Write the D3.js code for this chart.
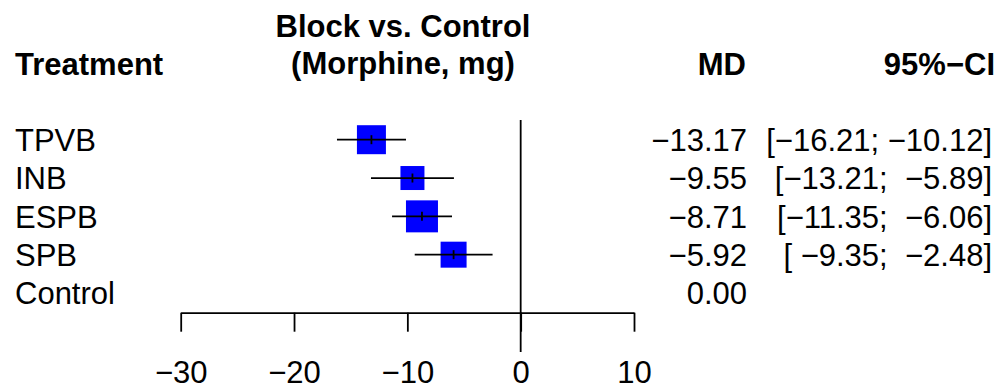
<!DOCTYPE html>
<meta charset="utf-8">
<style>
  body { margin: 0; background: #fff; }
  svg { font-family: "Liberation Sans", Arial, sans-serif; }
  .hdr { font-weight: bold; font-size: 31px; }
  .lbl { font-size: 31px; }
</style>
<body>
<svg width="1003" height="390"></svg>
<script src="https://d3js.org/d3.v7.min.js"></script>
<script>
// forest plot data
var treatments = ["TPVB", "INB", "ESPB", "SPB", "Control"];
var md = [-13.17, -9.55, -8.71, -5.92, 0];
var lower = [-16.21, -13.21, -11.35, -9.35, null];
var upper = [-10.12, -5.89, -6.06, -2.48, null];
var weights = [27.0, 18.5, 32.9, 21.7, null];
var tickVals = [-30, -20, -10, 0, 10];

var svg = d3.select("svg");

var x = d3.scaleLinear().domain([-30, 10]).range([180.7, 634]);
var y = d3.scalePoint().domain(treatments).range([139.7, 293]);
var box = d3.scaleSqrt().domain([0, d3.max(weights)]).range([0, 32]);
var f = d3.format(".2f");

// headers
svg.append("text").attr("class", "hdr").attr("x", 15).attr("y", 75).text("Treatment");
svg.append("text").attr("class", "hdr").attr("x", 403).attr("y", 37)
    .attr("text-anchor", "middle").text("Block vs. Control");
svg.append("text").attr("class", "hdr").attr("x", 403).attr("y", 74)
    .attr("text-anchor", "middle").text("(Morphine, mg)");
svg.append("text").attr("class", "hdr").attr("x", 746).attr("y", 75)
    .attr("text-anchor", "end").text("MD");
svg.append("text").attr("class", "hdr").attr("x", 995).attr("y", 75)
    .attr("text-anchor", "end").text("95%\u2212CI");

var rows = treatments.map(function(t, i) {
  return {name: t, md: md[i], lo: lower[i], hi: upper[i], w: weights[i]};
});

// zero line
svg.append("line")
    .attr("x1", x(0)).attr("x2", x(0))
    .attr("y1", 120).attr("y2", 352)
    .attr("stroke", "#000").attr("stroke-width", 1.8);

// study labels
svg.selectAll(".name").data(rows).enter().append("text")
    .attr("class", "lbl").attr("x", 15)
    .attr("y", function(d) { return y(d.name) + 11.3; })
    .text(function(d) { return d.name; });

var est = rows.filter(function(d) { return d.lo != null; });

// boxes
svg.selectAll(".box").data(est).enter().append("rect")
    .attr("x", function(d) { return x(d.md) - box(d.w) / 2; })
    .attr("y", function(d) { return y(d.name) - box(d.w) / 2; })
    .attr("width", function(d) { return box(d.w); })
    .attr("height", function(d) { return box(d.w); })
    .attr("fill", "#0000ff");

// CI lines
svg.selectAll(".ci").data(est).enter().append("line")
    .attr("x1", function(d) { return x(d.lo); })
    .attr("x2", function(d) { return x(d.hi); })
    .attr("y1", function(d) { return y(d.name); })
    .attr("y2", function(d) { return y(d.name); })
    .attr("stroke", "#000").attr("stroke-width", 1.8);

svg.selectAll(".mk").data(est).enter().append("line")
    .attr("x1", function(d) { return x(d.md); })
    .attr("x2", function(d) { return x(d.md); })
    .attr("y1", function(d) { return y(d.name) - 4.5; })
    .attr("y2", function(d) { return y(d.name) + 4.5; })
    .attr("stroke", "#000").attr("stroke-width", 1.8);

// MD column
svg.selectAll(".md").data(rows).enter().append("text")
    .attr("class", "lbl").attr("x", 747).attr("text-anchor", "end")
    .attr("y", function(d) { return y(d.name) + 11.3; })
    .text(function(d) { return f(d.md); });

// CI column
svg.selectAll(".cit").data(est).enter().append("text")
    .attr("class", "lbl").attr("x", 992).attr("text-anchor", "end")
    .attr("xml:space", "preserve").style("white-space", "pre")
    .attr("y", function(d) { return y(d.name) + 11.3; })
    .text(function(d) {
      return "[" + f(d.lo).padStart(6, " ") + "; " + f(d.hi).padStart(6, " ") + "]";
    });

// axis
var ax = svg.append("g").attr("transform", "translate(0,312.7)")
    .call(d3.axisBottom(x).tickValues(tickVals).tickSize(19).tickPadding(29)
      .tickSizeOuter(0));
ax.select(".domain").attr("stroke-width", 1.8);
ax.selectAll(".tick line").attr("stroke-width", 1.8);
ax.selectAll(".tick text").attr("class", "lbl").attr("font-family", null)
    .attr("font-size", null).attr("fill", "#000");
</script>
</body>
